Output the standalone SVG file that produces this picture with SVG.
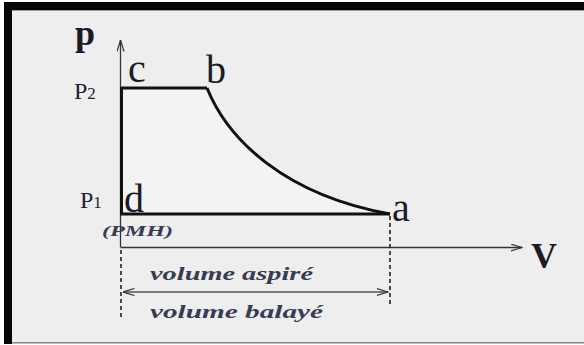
<svg xmlns="http://www.w3.org/2000/svg" width="584" height="345" viewBox="0 0 584 345">
<defs>
<style>
.lbl{font-family:"Liberation Serif","Times New Roman",serif;fill:#1b1b26}
.big{font-size:40px}
.ax{font-size:36px;font-weight:bold}
.pp{font-size:24px;fill:#1c2438}
.sub{font-size:17px}
.it{font-family:"Liberation Serif","Times New Roman",serif;font-style:italic;font-weight:bold;fill:#363c52}
.axis{stroke:#333;stroke-width:1.3;fill:none}
.cyc{stroke:#111;stroke-width:3;fill:none;stroke-linejoin:round}
.dash{stroke:#222;stroke-width:1.6;stroke-dasharray:4 3;fill:none}
</style>
<marker id="ah" viewBox="0 0 12 8" refX="11.5" refY="4" markerWidth="12" markerHeight="8" markerUnits="userSpaceOnUse" orient="auto-start-reverse">
<path d="M0,0.5 L11.5,4 L0,7.5" fill="none" stroke="#333" stroke-width="1.2"/>
</marker>
</defs>
<rect x="0" y="0" width="584" height="345" fill="#ffffff"/>
<rect x="4" y="2" width="580" height="342" fill="#eeeeee"/>
<rect x="4" y="2" width="580" height="8" fill="#050505"/>
<rect x="4" y="2" width="8" height="342" fill="#050505"/>
<rect x="12" y="10" width="572" height="1" fill="#9a9a9a"/>
<rect x="12" y="342" width="572" height="1.5" fill="#8a8a8a"/>

<g id="cycle">
<path d="M121.5,88 L207,88 C228,140 285,195 390,214 L121.5,214 Z" fill="#f3f3f3" stroke="none"/>
</g>

<g id="connectors">
<line class="axis" x1="120.5" y1="247" x2="120.5" y2="40" marker-end="url(#ah)"/>
<line class="axis" x1="120.5" y1="247.5" x2="522" y2="247.5" marker-end="url(#ah)"/>
<polyline class="cyc" points="121.5,214 121.5,88 207,88"/>
<path class="cyc" stroke-width="2.5" d="M207,88 C228,140 285,195 390,214"/>
<line class="cyc" x1="120" y1="214" x2="390" y2="214"/>
<line class="dash" x1="121" y1="250" x2="121" y2="318"/>
<line class="dash" x1="390" y1="216" x2="390" y2="304"/>
<line stroke="#555" stroke-width="1.5" x1="123" y1="292" x2="388" y2="292" marker-start="url(#ah)" marker-end="url(#ah)"/>
</g>

<g id="labels">
<text class="lbl ax" x="75" y="45">p</text>
<text class="lbl ax" x="531" y="268">V</text>
<text class="lbl big" x="128" y="82">c</text>
<text class="lbl big" x="206" y="83">b</text>
<text class="lbl big" x="124" y="212">d</text>
<text class="lbl big" x="392" y="221">a</text>
<text class="lbl pp" x="74" y="99">P<tspan class="sub">2</tspan></text>
<text class="lbl pp" x="80" y="208">P<tspan class="sub">1</tspan></text>
<text class="it" x="102" y="236" font-size="14" textLength="71" lengthAdjust="spacingAndGlyphs">(PMH)</text>
<text class="it" x="150" y="280" font-size="18" textLength="163" lengthAdjust="spacingAndGlyphs">volume aspiré</text>
<text class="it" x="150" y="318" font-size="18" textLength="173" lengthAdjust="spacingAndGlyphs">volume balayé</text>
</g>
</svg>
